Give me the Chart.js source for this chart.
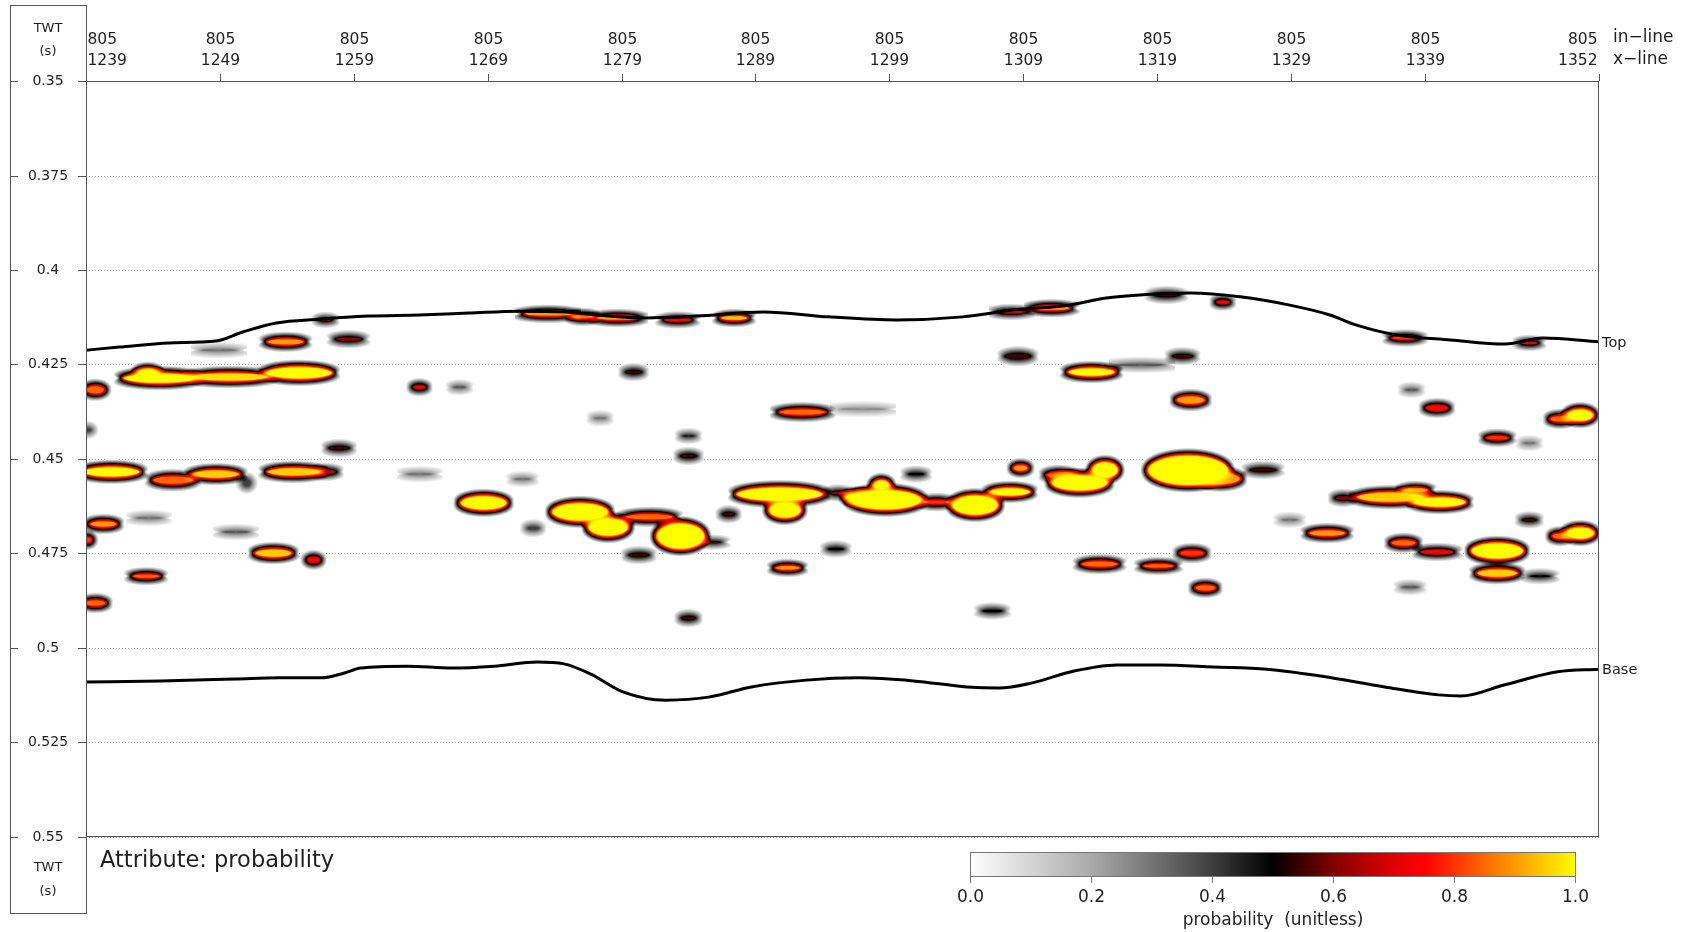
<!DOCTYPE html>
<html>
<head>
<meta charset="utf-8">
<script src="https://cdn.jsdelivr.net/npm/chart.js@4.4.1/dist/chart.umd.min.js"></script>
<style>
  html, body { margin: 0; padding: 0; background: #fff; }
  canvas { display: block; }
</style>
</head>
<body>
<canvas id="section" width="1684" height="932"></canvas>
<script>
// section data: in-line 805, x-lines 1239..1352, TWT in seconds
const inLine = 805;
const xTicks = [1239, 1249, 1259, 1269, 1279, 1289, 1299, 1309, 1319, 1329, 1339, 1352];
const twtTicks = [0.35, 0.375, 0.4, 0.425, 0.45, 0.475, 0.5, 0.525, 0.55];
const cbarTicks = [0, 0.2, 0.4, 0.6, 0.8, 1.0];

// horizons picked on the section
const topXline = [1239, 1241.5, 1245.2, 1248.7, 1250.7, 1253.2, 1256.4, 1260.1, 1263.9, 1267.6, 1271.3, 1274.8,
  1277.1, 1280.8, 1284.6, 1289.6, 1294.5, 1299.5, 1304.5, 1308.2, 1312.4, 1315.2, 1317.7, 1321.5,
  1325.2, 1328.9, 1331.9, 1333.9, 1336.9, 1340.9, 1345.0, 1347.8, 1352];
const topTwt = [0.4212, 0.4204, 0.4193, 0.4188, 0.4164, 0.4140, 0.4130, 0.4122, 0.4119, 0.4114, 0.4109, 0.4111,
  0.4119, 0.4127, 0.4122, 0.4111, 0.4124, 0.4132, 0.4124, 0.4106, 0.4093, 0.4074, 0.4066, 0.4061,
  0.4071, 0.4093, 0.4119, 0.4146, 0.4172, 0.4185, 0.4196, 0.4180, 0.4190];
const baseXline = [1239, 1244.6, 1250.2, 1253.4, 1256.6, 1258.3, 1259.5, 1263.0, 1266.3, 1269.5, 1272.7, 1274.7,
  1276.7, 1279.1, 1282.3, 1285.5, 1288.7, 1292.8, 1296.7, 1300.8, 1304.8, 1307.2, 1309.6, 1312.8,
  1316.0, 1319.2, 1323.2, 1327.2, 1331.2, 1336.0, 1340.0, 1341.7, 1344.9, 1348.9, 1352];
const baseTwt = [0.5090, 0.5087, 0.5082, 0.5079, 0.5079, 0.5066, 0.5053, 0.5048, 0.5053, 0.5048, 0.5037, 0.5042,
  0.5069, 0.5116, 0.5138, 0.5130, 0.5103, 0.5085, 0.5079, 0.5087, 0.5103, 0.5106, 0.5093, 0.5061,
  0.5045, 0.5045, 0.5050, 0.5056, 0.5074, 0.5103, 0.5124, 0.5127, 0.5098, 0.5063, 0.5056];

// probability bodies: [x-line, twt, half width (x-lines), half height (s), peak probability]
const blobsWest = [
  [1244.5, 0.4286, 2.84, 0.00185, 1.0], [1249.7, 0.4283, 2.99, 0.00159, 0.97],
  [1254.9, 0.4272, 2.61, 0.00212, 1.0], [1243.6, 0.4272, 0.90, 0.00159, 1.0],
  [1239.7, 0.4317, 0.82, 0.00159, 0.85], [1253.9, 0.4190, 1.49, 0.00132, 0.9],
  [1258.6, 0.4183, 1.12, 0.00106, 0.6], [1248.9, 0.4212, 1.49, 0.00079, 0.3],
  [1273.5, 0.4116, 1.87, 0.00106, 0.9], [1276.1, 0.4124, 0.90, 0.00106, 0.85],
  [1256.9, 0.4132, 0.60, 0.00079, 0.6], [1263.9, 0.4310, 0.60, 0.00106, 0.7],
  [1266.9, 0.4310, 0.60, 0.00079, 0.35], [1257.9, 0.4471, 0.90, 0.00106, 0.55],
  [1239.1, 0.4423, 0.45, 0.00106, 0.4], [1240.9, 0.4534, 2.24, 0.00185, 1.0],
  [1245.5, 0.4556, 1.64, 0.00159, 0.85], [1248.7, 0.4540, 1.87, 0.00159, 0.95],
  [1251.0, 0.4563, 0.45, 0.00159, 0.4], [1254.5, 0.4534, 2.09, 0.00159, 0.95],
  [1256.9, 0.4534, 0.90, 0.00106, 0.65], [1263.9, 0.4540, 1.12, 0.00079, 0.3],
  [1268.7, 0.4616, 1.87, 0.00238, 1.0], [1240.3, 0.4672, 1.12, 0.00132, 0.9],
  [1239.1, 0.4714, 0.45, 0.00132, 0.8], [1243.7, 0.4656, 1.12, 0.00079, 0.3],
  [1250.2, 0.4693, 1.12, 0.00079, 0.35], [1253.0, 0.4749, 1.49, 0.00159, 0.95],
  [1256.0, 0.4767, 0.60, 0.00132, 0.75], [1243.5, 0.4810, 1.12, 0.00106, 0.85],
  [1239.7, 0.4881, 0.90, 0.00132, 0.85], [1272.4, 0.4683, 0.60, 0.00106, 0.4],
  [1271.6, 0.4553, 0.75, 0.00079, 0.3]
];
const blobsCentre = [
  [1278.7, 0.4127, 1.64, 0.00106, 0.9], [1283.2, 0.4132, 1.12, 0.00093, 0.75],
  [1287.4, 0.4127, 1.12, 0.00106, 0.95], [1308.1, 0.4111, 1.12, 0.00079, 0.7],
  [1311.1, 0.4101, 1.49, 0.00106, 0.9], [1308.6, 0.4228, 1.12, 0.00132, 0.55],
  [1314.1, 0.4270, 1.87, 0.00159, 1.0], [1279.9, 0.4270, 0.75, 0.00106, 0.55],
  [1292.5, 0.4376, 1.87, 0.00132, 0.85], [1297.0, 0.4368, 1.87, 0.00079, 0.25],
  [1284.0, 0.4439, 0.60, 0.00079, 0.45], [1284.0, 0.4492, 0.75, 0.00106, 0.55],
  [1275.9, 0.4640, 2.24, 0.00291, 1.0], [1278.0, 0.4680, 1.64, 0.00291, 1.0],
  [1281.1, 0.4653, 1.87, 0.00132, 0.85], [1283.4, 0.4704, 1.94, 0.00397, 1.0],
  [1285.8, 0.4720, 0.75, 0.00066, 0.55], [1280.3, 0.4754, 0.90, 0.00106, 0.55],
  [1287.0, 0.4646, 0.60, 0.00106, 0.55], [1290.8, 0.4593, 3.36, 0.00238, 1.0],
  [1291.2, 0.4635, 1.34, 0.00265, 1.0], [1298.7, 0.4608, 2.84, 0.00317, 1.0],
  [1298.4, 0.4569, 0.75, 0.00185, 1.0], [1296.7, 0.4601, 1.12, 0.00159, 1.0],
  [1305.4, 0.4622, 1.87, 0.00317, 1.0], [1308.0, 0.4587, 1.64, 0.00159, 1.0],
  [1302.5, 0.4614, 1.12, 0.00106, 0.8], [1295.2, 0.4590, 0.75, 0.00093, 0.6],
  [1308.8, 0.4524, 0.67, 0.00132, 0.9], [1313.2, 0.4563, 2.24, 0.00265, 1.0],
  [1315.1, 0.4529, 1.12, 0.00265, 1.0], [1311.7, 0.4542, 1.12, 0.00132, 0.8],
  [1301.0, 0.4540, 0.75, 0.00093, 0.5], [1295.0, 0.4738, 0.75, 0.00093, 0.5],
  [1291.4, 0.4788, 1.05, 0.00106, 0.9], [1314.7, 0.4778, 1.49, 0.00132, 0.85],
  [1284.0, 0.4921, 0.67, 0.00106, 0.55], [1306.7, 0.4902, 0.90, 0.00093, 0.5],
  [1277.4, 0.4392, 0.60, 0.00079, 0.3]
];
const blobsEast = [
  [1319.7, 0.4066, 1.12, 0.00106, 0.55], [1323.9, 0.4085, 0.60, 0.00093, 0.75],
  [1337.5, 0.4180, 1.12, 0.00093, 0.8], [1346.8, 0.4193, 0.75, 0.00079, 0.7],
  [1320.9, 0.4228, 0.90, 0.00106, 0.55], [1317.8, 0.4251, 1.87, 0.00079, 0.35],
  [1321.5, 0.4344, 1.19, 0.00159, 0.9], [1339.9, 0.4365, 0.97, 0.00132, 0.75],
  [1338.0, 0.4317, 0.60, 0.00079, 0.35], [1350.6, 0.4384, 1.12, 0.00212, 1.0],
  [1349.1, 0.4394, 0.90, 0.00132, 0.85], [1344.4, 0.4444, 0.97, 0.00106, 0.8],
  [1321.3, 0.4530, 3.14, 0.00450, 1.0], [1323.7, 0.4552, 1.64, 0.00212, 0.9],
  [1326.9, 0.4529, 1.12, 0.00106, 0.55], [1336.4, 0.4601, 2.61, 0.00185, 0.95],
  [1340.1, 0.4614, 2.09, 0.00185, 1.0], [1338.3, 0.4582, 1.05, 0.00106, 0.9],
  [1332.9, 0.4603, 0.75, 0.00106, 0.6], [1331.7, 0.4696, 1.49, 0.00132, 0.9],
  [1346.8, 0.4661, 0.67, 0.00093, 0.55], [1350.6, 0.4696, 1.19, 0.00212, 1.0],
  [1349.1, 0.4704, 0.75, 0.00132, 0.85], [1337.4, 0.4722, 1.05, 0.00132, 0.85],
  [1339.9, 0.4746, 1.34, 0.00106, 0.75], [1344.4, 0.4743, 2.09, 0.00265, 1.0],
  [1344.4, 0.4802, 1.64, 0.00159, 0.95], [1347.6, 0.4810, 0.90, 0.00079, 0.5],
  [1321.6, 0.4749, 1.05, 0.00132, 0.8], [1319.1, 0.4783, 1.27, 0.00106, 0.85],
  [1322.6, 0.4841, 0.90, 0.00132, 0.85], [1337.9, 0.4839, 0.75, 0.00079, 0.35],
  [1328.9, 0.4661, 0.75, 0.00079, 0.3], [1346.8, 0.4458, 0.60, 0.00079, 0.3]
];
const allBlobs = blobsWest.concat(blobsCentre, blobsEast);

// white -> black -> red -> yellow
const cmapStops = [
  [0.0, 255, 255, 255], [0.2, 170, 170, 170], [0.4, 62, 62, 62], [0.5, 0, 0, 0],
  [0.6, 130, 0, 0], [0.7, 225, 0, 0], [0.75, 255, 0, 0], [0.85, 255, 105, 0],
  [0.95, 255, 205, 0], [1.0, 255, 255, 0]
];
function cmap(p) {
  p = Math.max(0, Math.min(1, p));
  for (let i = 1; i < cmapStops.length; i++) {
    const b = cmapStops[i];
    if (p <= b[0]) {
      const a = cmapStops[i - 1];
      const f = (p - a[0]) / (b[0] - a[0]);
      return [a[1] + f * (b[1] - a[1]), a[2] + f * (b[2] - a[2]), a[3] + f * (b[3] - a[3])];
    }
  }
  return [255, 255, 0];
}

const FONT = '"DejaVu Sans", sans-serif';
const fmtTwt = v => String(+v.toFixed(3));

// dotted grid + probability field under the horizons
const fieldPlugin = {
  id: 'field',
  beforeDatasetsDraw(chart) {
    const { ctx, chartArea: a, scales: { x, y } } = chart;
    ctx.save();
    ctx.strokeStyle = '#9a9a9a';
    ctx.lineWidth = 1;
    ctx.setLineDash([1, 2]);
    twtTicks.forEach(t => {
      const py = Math.round(y.getPixelForValue(t)) + 0.5;
      ctx.beginPath(); ctx.moveTo(a.left, py); ctx.lineTo(a.right, py); ctx.stroke();
    });
    ctx.restore();

    const W = Math.round(a.right - a.left), H = Math.round(a.bottom - a.top);
    const keep = new Float32Array(W * H).fill(1); // product of (1 - p)
    for (const b of allBlobs) {
      const cx = x.getPixelForValue(b[0]) - a.left;
      const cy = y.getPixelForValue(b[1]) - a.top;
      const rx = Math.abs(x.getPixelForValue(b[0] + b[2]) - x.getPixelForValue(b[0]));
      const ry = Math.abs(y.getPixelForValue(b[1] + b[3]) - y.getPixelForValue(b[1]));
      const x0 = Math.max(0, Math.floor(cx - rx - 7)), x1 = Math.min(W - 1, Math.ceil(cx + rx + 7));
      const y0 = Math.max(0, Math.floor(cy - ry - 7)), y1 = Math.min(H - 1, Math.ceil(cy + ry + 7));
      for (let j = y0; j <= y1; j++) {
        for (let i = x0; i <= x1; i++) {
          const u = (i + 0.5 - cx) / rx, v = (j + 0.5 - cy) / ry;
          const d = Math.sqrt(u * u + v * v);
          const g = d > 1e-6 ? Math.sqrt((u / rx) * (u / rx) + (v / ry) * (v / ry)) / d : 1 / Math.max(rx, ry);
          const sd = (d - 1) / g;
          const p = b[4] * Math.max(0, Math.min(1, (5.5 - sd) / 8.5));
          keep[j * W + i] *= (1 - Math.min(p, 0.999));
        }
      }
    }
    const img = ctx.createImageData(W, H);
    for (let k = 0; k < W * H; k++) {
      const p = 1 - keep[k];
      if (p <= 0.004) continue;
      const c = cmap(p);
      img.data[k * 4] = c[0]; img.data[k * 4 + 1] = c[1]; img.data[k * 4 + 2] = c[2]; img.data[k * 4 + 3] = 255;
    }
    const off = document.createElement('canvas');
    off.width = W; off.height = H;
    off.getContext('2d').putImageData(img, 0, 0);
    ctx.drawImage(off, a.left, a.top);
  }
};

// frame, axis box, labels, colour bar
const decorPlugin = {
  id: 'decor',
  afterDraw(chart) {
    const { ctx, chartArea: a, scales: { x, y } } = chart;
    ctx.save();
    ctx.fillStyle = '#1e1e1e';
    ctx.strokeStyle = '#555';
    ctx.lineWidth = 1;
    ctx.setLineDash([]);

    // plot frame
    ctx.strokeRect(Math.round(a.left) + 0.5, Math.round(a.top) + 0.5,
      Math.round(a.right - a.left) - 1, Math.round(a.bottom - a.top) - 1);

    // TWT box on the left
    const boxL = 10, boxR = Math.round(a.left);
    ctx.strokeRect(boxL + 0.5, 5.5, boxR - boxL, 908);
    const midX = (boxL + boxR) / 2;
    ctx.textAlign = 'center';
    ctx.textBaseline = 'middle';
    ctx.font = '13px ' + FONT;
    ctx.fillText('TWT', midX, 29);
    ctx.fillText('(s)', midX, 52);
    ctx.fillText('TWT', midX, 868);
    ctx.fillText('(s)', midX, 892);
    ctx.font = '14px ' + FONT;
    twtTicks.forEach(t => {
      const py = Math.round(y.getPixelForValue(t)) + 0.5;
      ctx.fillText(fmtTwt(t), midX, py);
      ctx.beginPath();
      ctx.moveTo(boxL, py); ctx.lineTo(boxL + 8, py);
      ctx.moveTo(boxR - 8, py); ctx.lineTo(boxR, py);
      ctx.stroke();
    });

    // x-line / in-line labels along the top
    ctx.font = '15.5px ' + FONT;
    xTicks.forEach((v, i) => {
      const px = Math.round(x.getPixelForValue(v)) + 0.5;
      ctx.textAlign = i === 0 ? 'left' : (i === xTicks.length - 1 ? 'right' : 'center');
      const tx = i === 0 ? px + 1 : (i === xTicks.length - 1 ? px - 2 : px);
      ctx.fillText(String(inLine), tx, 40);
      ctx.fillText(String(v), tx, 61);
      ctx.beginPath(); ctx.moveTo(px, a.top - 7); ctx.lineTo(px, a.top); ctx.stroke();
    });
    ctx.textAlign = 'left';
    ctx.font = '17px ' + FONT;
    ctx.fillText('in\u2212line', a.right + 14, 38);
    ctx.fillText('x\u2212line', a.right + 14, 60);

    // horizon names at the right edge
    ctx.font = '14.5px ' + FONT;
    ctx.fillText('Top', a.right + 3, y.getPixelForValue(topTwt[topTwt.length - 1]) + 1);
    ctx.fillText('Base', a.right + 3, y.getPixelForValue(baseTwt[baseTwt.length - 1]) + 1);

    // attribute caption
    ctx.font = '22.5px ' + FONT;
    ctx.textBaseline = 'alphabetic';
    ctx.fillText('Attribute: probability', 100, 867);

    // colour bar
    const cb = { l: 970, r: 1576, t: 852, b: 877 };
    for (let i = cb.l; i < cb.r; i++) {
      const c = cmap((i + 0.5 - cb.l) / (cb.r - cb.l));
      ctx.fillStyle = 'rgb(' + c.map(Math.round).join(',') + ')';
      ctx.fillRect(i, cb.t, 1, cb.b - cb.t);
    }
    ctx.strokeStyle = '#777';
    ctx.strokeRect(cb.l + 0.5, cb.t + 0.5, cb.r - cb.l - 1, cb.b - cb.t - 1);
    ctx.fillStyle = '#1e1e1e';
    ctx.font = '17px ' + FONT;
    ctx.textAlign = 'center';
    ctx.textBaseline = 'middle';
    cbarTicks.forEach(t => {
      const px = Math.round(cb.l + t * (cb.r - cb.l - 1)) + 0.5;
      ctx.beginPath(); ctx.moveTo(px, cb.b); ctx.lineTo(px, cb.b + 6); ctx.stroke();
      ctx.fillText(t.toFixed(1), px, 898);
    });
    ctx.fillText('probability  (unitless)', (cb.l + cb.r) / 2, 921);
    ctx.restore();
  }
};

const toPoints = (xs, ys) => xs.map((v, i) => ({ x: v, y: ys[i] }));

new Chart(document.getElementById('section'), {
  type: 'scatter',
  data: {
    datasets: [
      { label: 'Top', data: toPoints(topXline, topTwt) },
      { label: 'Base', data: toPoints(baseXline, baseTwt) }
    ].map(d => Object.assign(d, {
      showLine: true, borderColor: '#000', borderWidth: 3, pointRadius: 0,
      cubicInterpolationMode: 'monotone', fill: false
    }))
  },
  options: {
    responsive: false,
    animation: false,
    devicePixelRatio: 1,
    layout: { padding: { left: 86, right: 85, top: 81, bottom: 95 } },
    scales: {
      x: { type: 'linear', min: 1239, max: 1352, display: false },
      y: { type: 'linear', min: 0.35, max: 0.55, reverse: true, display: false }
    },
    plugins: { legend: { display: false }, tooltip: { enabled: false } }
  },
  plugins: [fieldPlugin, decorPlugin]
});
</script>
</body>
</html>
